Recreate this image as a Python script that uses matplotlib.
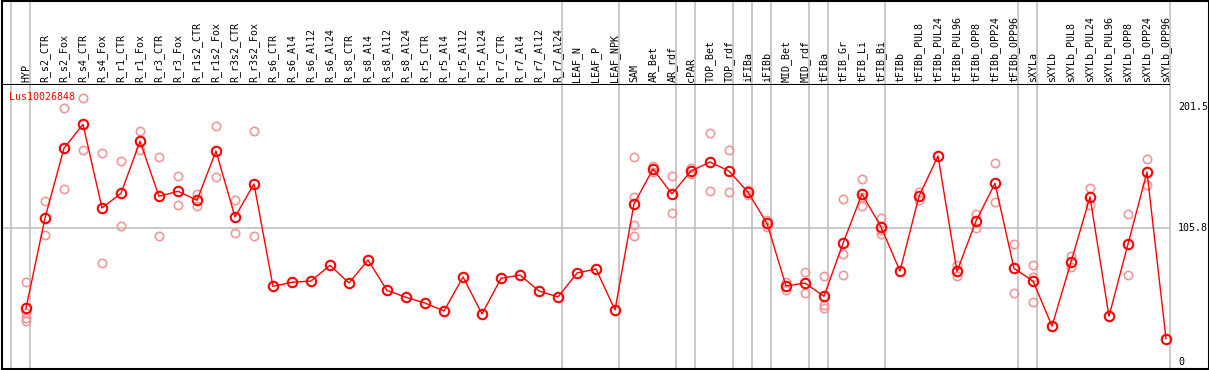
import numpy as np
import matplotlib
matplotlib.use('Agg')
import matplotlib.pyplot as plt

# sample names along the top
samples = ['HYP',
           'R_s2_CTR', 'R_s2_Fox', 'R_s4_CTR', 'R_s4_Fox', 'R_r1_CTR', 'R_r1_Fox',
           'R_r3_CTR', 'R_r3_Fox', 'R_r1s2_CTR', 'R_r1s2_Fox', 'R_r3s2_CTR', 'R_r3s2_Fox',
           'R_s6_CTR', 'R_s6_Al4', 'R_s6_Al12', 'R_s6_Al24', 'R_s8_CTR', 'R_s8_Al4',
           'R_s8_Al12', 'R_s8_Al24', 'R_r5_CTR', 'R_r5_Al4', 'R_r5_Al12', 'R_r5_Al24',
           'R_r7_CTR', 'R_r7_Al4', 'R_r7_Al12', 'R_r7_Al24',
           'LEAF_N', 'LEAF_P', 'LEAF_NPK',
           'SAM', 'AR_Bet', 'AR_rdf', 'cPAR', 'TOP_Bet', 'TOP_rdf', 'iFIBa', 'iFIBb',
           'MID_Bet', 'MID_rdf', 'tFIBa', 'tFIB_Gr', 'tFIB_Li', 'tFIB_Bi',
           'tFIBb', 'tFIBb_PUL8', 'tFIBb_PUL24', 'tFIBb_PUL96', 'tFIBb_OPP8',
           'tFIBb_OPP24', 'tFIBb_OPP96',
           'sXYLa', 'sXYLb', 'sXYLb_PUL8', 'sXYLb_PUL24', 'sXYLb_PUL96', 'sXYLb_OPP8',
           'sXYLb_OPP24', 'sXYLb_OPP96']

# number of samples in each tissue group (gray separators between groups)
group_sizes = [1, 28, 3, 3, 1, 2, 1, 1, 2, 1, 3, 7, 1, 7]

# mean expression per sample
means = [42.4, 113.8, 168.9, 187.8, 121.7, 133.3, 174.4, 130.9, 134.9, 127.8, 166.7, 114.6, 140.7,
         59.8, 63.0, 64.0, 76.4, 62.4, 80.6, 56.6, 51.1, 46.6, 40.3, 67.2, 37.9, 66.1, 68.7,
         56.1, 51.4, 70.3, 73.5, 41.1,
         124.9, 152.5, 132.8, 150.9, 158.0, 150.9, 134.1, 109.6, 60.1, 62.4, 51.9, 93.8,
         132.8, 106.7, 71.9,
         130.9, 162.8, 71.6, 111.4, 141.2, 74.0, 64.0, 28.4, 79.0, 130.4, 36.1, 93.2, 150.1, 18.4]

# individual replicates
replicates = [[63.0, 38.5, 34.5, 32.4],
              [127.2, 100.1], [200.5, 136.5], [208.4, 167.3], [164.9, 78.2],
              [158.6, 107.2], [182.3, 167.3], [161.8, 99.3], [146.7, 123.8],
              [132.8, 123.0], [186.3, 145.9], [127.8, 101.7], [182.3, 99.3]] \
    + [[] for _ in range(19)] \
    + [[161.8, 130.4, 108.0, 99.6], [155.1, 149.9], [146.7, 117.7], [153.0, 148.3],
       [181.0, 134.9], [167.3, 134.3], [136.0, 132.2], [112.2, 107.0],
       [63.2, 56.6], [71.1, 54.5], [68.0, 45.0, 42.4], [128.8, 85.3, 68.7],
       [144.6, 130.1, 123.3], [113.8, 104.3, 100.9], [],
       [134.1, 127.8], [], [76.9, 67.7], [117.0, 105.9], [157.3, 126.2], [93.2, 54.5],
       [76.4, 67.4, 47.4], [], [83.8, 74.8], [137.5, 123.8], [], [116.7, 68.7],
       [160.2, 139.6], []]

gene = 'Lus10026848'
y_ticks = [0, 105.8, 201.5]

W, H = 1209, 370
fig = plt.figure(figsize=(W / 100, H / 100), dpi=100)
font = 'DejaVu Sans Mono'
fs = 7.2


def px_box(l, t, r, b):
    return [l / W, 1 - b / H, (r - l) / W, (b - t) / H]


ax = fig.add_axes(px_box(1.5, 85, 1208.5, 369))
ax_lab = fig.add_axes(px_box(1.5, 0.5, 1208.5, 85), sharex=ax)

x = np.arange(len(samples))
# 19 px per sample, first sample 24.5 px from the left edge
ax.set_xlim(-24.5 / 19, (1207 - 24.5) / 19)
ax.set_ylim(-7 / 1.2655, 277 / 1.2655)
ax_lab.set_ylim(0, 1)

# group separators
bounds = np.concatenate([[-1], np.cumsum(group_sizes) - 1]) + 0.21
for b in bounds:
    ax.axvline(b, color='#c0c0c0', lw=1.2, zorder=0)
    ax_lab.axvline(b, color='#c0c0c0', lw=1.2, zorder=0)

ax.hlines(y_ticks[1], ax.get_xlim()[0], bounds[-1], color='#c0c0c0', lw=1.2, zorder=0)
ax_lab.hlines(0, ax.get_xlim()[0], bounds[-1], color='black', lw=1.5, zorder=3)

# replicates
for i, reps in enumerate(replicates):
    if reps:
        ax.plot([i] * len(reps), reps, 'o', ms=6, mfc='none', mec='#f09898', mew=1.2, zorder=2)

ax.plot(x, means, '-', color='red', lw=1, zorder=3)
ax.plot(x, means, 'o', ms=6.8, mfc='none', mec='red', mew=1.5, zorder=4)

for i, name in enumerate(samples):
    ax_lab.text(i, 0.03, name, rotation=90, ha='center', va='bottom',
                fontsize=fs, family=font)

for v in y_ticks:
    ax.text(0.9747, v, str(v) if v else '0', transform=ax.get_yaxis_transform(),
            ha='left', va='center', fontsize=fs, family=font)
ax.text(0.0062, 0.958, gene, transform=ax.transAxes, ha='left', va='center',
        fontsize=fs, family=font, color='red')

for a in (ax, ax_lab):
    a.set_xticks([])
    a.set_yticks([])
ax.spines['top'].set_visible(False)
ax_lab.spines['bottom'].set_visible(False)
for a in (ax, ax_lab):
    for s in a.spines.values():
        s.set_linewidth(1.5)

plt.savefig('out.png', dpi=100)
plt.close()
